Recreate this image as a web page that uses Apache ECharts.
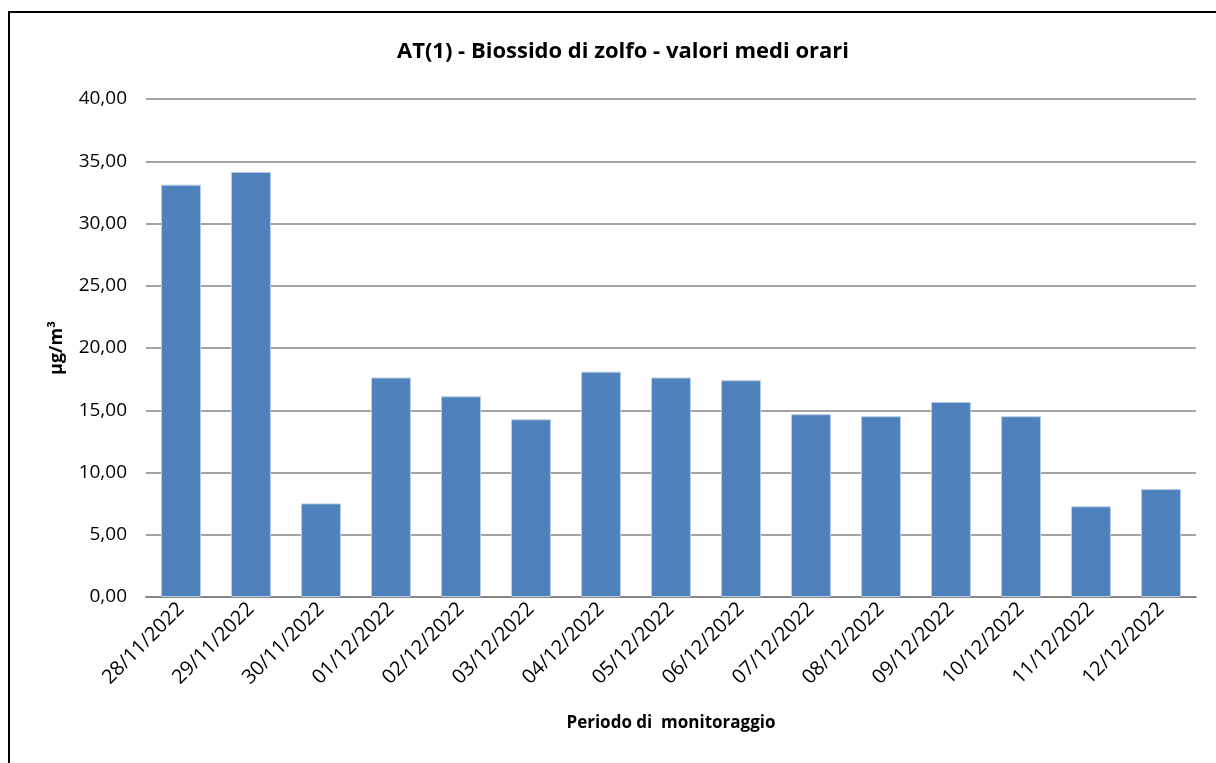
<!DOCTYPE html>
<html>
<head>
    <meta charset="UTF-8">
    <title>AT(1) - Biossido di zolfo</title>
    <script type="text/javascript" src="https://cdn.jsdelivr.net/npm/echarts@6/dist/echarts.min.js"></script>
    <style type="text/css">
        html, body { margin: 0; padding: 0; background: #fff; }
        #chart { width: 1216px; height: 763px; }
    </style>
</head>
<body>
    <div id="chart"></div>
    <script>
    // dati
    var giorni = ['28/11/2022', '29/11/2022', '30/11/2022', '01/12/2022', '02/12/2022',
        '03/12/2022', '04/12/2022', '05/12/2022', '06/12/2022', '07/12/2022',
        '08/12/2022', '09/12/2022', '10/12/2022', '11/12/2022', '12/12/2022'];
    var valori = [33.12, 34.14, 7.52, 17.63, 16.12, 14.27, 18.1, 17.63, 17.41, 14.68,
        14.52, 15.67, 14.52, 7.28, 8.67];
    var yTicks = [0, 5, 10, 15, 20, 25, 30, 35, 40];

    var font = '"Open Sans", "Liberation Sans", sans-serif';
    var myChart = echarts.init(document.getElementById('chart'));

    var option = {
        animation: false,
        textStyle: { fontFamily: font },
        graphic: [{
            type: 'rect',
            shape: { x: 9, y: 12, width: 1400, height: 900 },
            style: { fill: 'none', stroke: '#000', lineWidth: 2 }
        }],
        title: {
            text: 'AT(1) - Biossido di zolfo - valori medi orari',
            left: 618,
            textAlign: 'center',
            top: 36,
            textStyle: { fontFamily: font, fontSize: 22, fontWeight: 'bold', color: '#000' }
        },
        grid: { left: 146, right: 20, top: 99, bottom: 166 },
        xAxis: {
            type: 'category',
            data: giorni,
            name: 'Periodo di  monitoraggio',
            nameLocation: 'middle',
            nameGap: 118,
            nameTextStyle: { fontFamily: font, fontSize: 17, fontWeight: 'bold', color: '#000' },
            axisLine: { lineStyle: { color: '#868686', width: 2 } },
            axisTick: { show: false },
            axisLabel: {
                interval: 0,
                rotate: 45,
                margin: 9,
                fontSize: 20,
                color: '#000',
                fontFamily: font
            }
        },
        yAxis: {
            type: 'value',
            min: yTicks[0],
            max: yTicks[yTicks.length - 1],
            interval: 5,
            name: 'μg/m³',
            nameLocation: 'middle',
            nameGap: 80,
            nameRotate: 90,
            nameTextStyle: { fontFamily: font, fontSize: 18, fontWeight: 'bold', color: '#000' },
            axisLine: { show: false },
            axisTick: { show: false },
            axisLabel: {
                margin: 19,
                fontSize: 19,
                color: '#000',
                fontFamily: font,
                formatter: function (v) { return v.toFixed(2).replace('.', ','); }
            },
            splitLine: { lineStyle: { color: '#868686', width: 1.5 } }
        },
        series: [{
            name: 'SO2',
            type: 'bar',
            data: valori,
            barWidth: '57%',
            itemStyle: { color: '#4F81BD', borderColor: '#B9CDE5', borderWidth: 1 }
        }]
    };

    myChart.setOption(option);
    </script>
</body>
</html>
